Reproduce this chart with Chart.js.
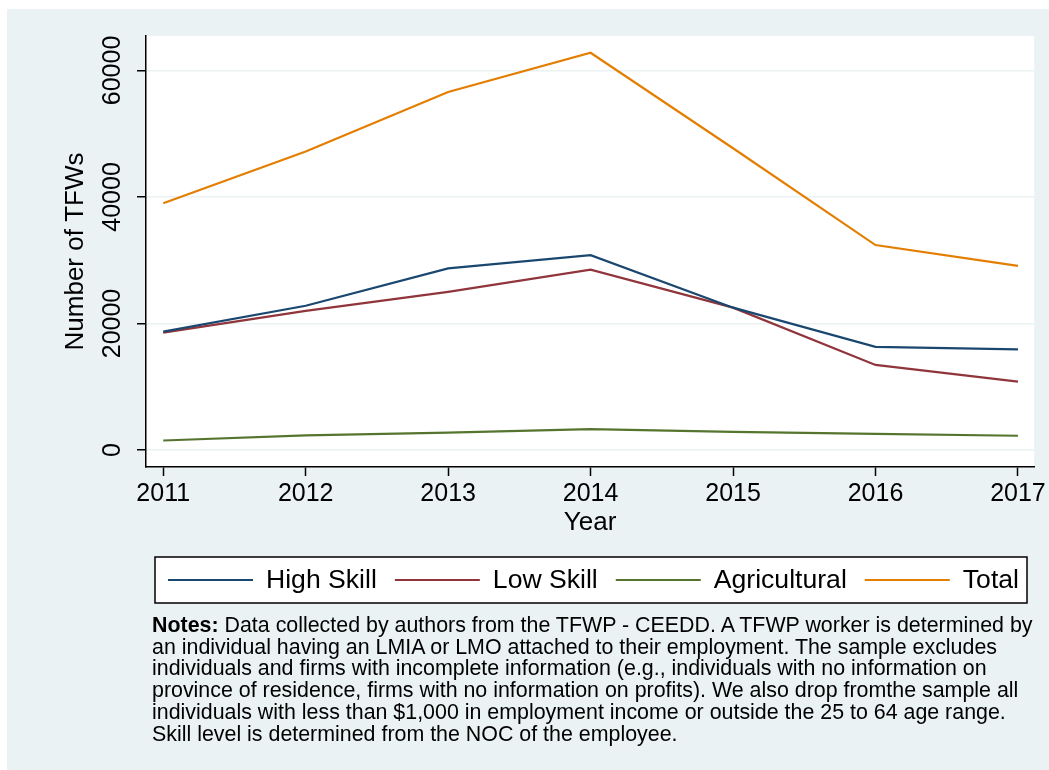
<!DOCTYPE html>
<html>
<head>
<meta charset="utf-8">
<script src="https://cdn.jsdelivr.net/npm/chart.js@4"></script>
<style>
  html, body { margin: 0; padding: 0; background: #fff; }
  #wrap { position: relative; width: 1049px; height: 770px; }
  #notes {
    position: absolute; left: 152px; top: 615px;
    font-family: "Liberation Sans", Arial, sans-serif; font-size: 21.4px;
    line-height: 21.7px; color: #000; white-space: nowrap;
  }
</style>
</head>
<body>
<div id="wrap">
  <canvas id="myChart" width="1049" height="770"></canvas>
  <div id="notes"><b>Notes:</b> Data collected by authors from the TFWP - CEEDD. A TFWP worker is determined by<br>an individual having an LMIA or LMO attached to their employment. The sample excludes<br>individuals and firms with incomplete information (e.g., individuals with no information on<br>province of residence, firms with no information on profits). We also drop fromthe sample all<br>individuals with less than $1,000 in employment income or outside the 25 to 64 age range.<br>Skill level is determined from the NOC of the employee.</div>
</div>
<script>
const years = [2011, 2012, 2013, 2014, 2015, 2016, 2017]
const highSkill = [18700, 22800, 28700, 30800, 22500, 16300, 15900]
const lowSkill = [18550, 22000, 25000, 28500, 22500, 13450, 10800]
const agricultural = [1500, 2300, 2750, 3300, 2850, 2550, 2250]
const total = [39000, 47200, 56600, 62800, 47700, 32400, 29100]
const yTicks = [0, 20000, 40000, 60000]
const seriesNames = ['High Skill', 'Low Skill', 'Agricultural', 'Total']
const seriesColors = ['#1a476f', '#90353b', '#55752f', '#e37e00']

const FONT = '"Liberation Sans", Arial, sans-serif'
const ctx = document.getElementById('myChart')

const toPoints = values => values.map((v, i) => ({ x: years[i], y: v }))

const makeSet = (i, values) => ({
    label: seriesNames[i],
    data: toPoints(values),
    borderColor: seriesColors[i],
    backgroundColor: seriesColors[i],
    borderWidth: 2.2,
    pointRadius: 0,
    tension: 0,
    clip: false
})

// background + custom stata-like legend + rotated y tick labels
const stataLook = {
    id: 'stataLook',
    beforeDraw(chart) {
        const c = chart.ctx
        const a = chart.chartArea
        c.save()
        c.fillStyle = '#ffffff'
        c.fillRect(0, 0, chart.width, chart.height)
        c.fillStyle = '#eaf2f3'
        c.fillRect(7, 9, chart.width - 7, chart.height - 9)
        c.fillStyle = '#ffffff'
        c.fillRect(a.left, a.top, a.right - a.left, a.bottom - a.top)
        c.restore()
    },
    afterDraw(chart) {
        const c = chart.ctx
        const yScale = chart.scales.y
        c.save()
        // y tick labels, rotated
        c.fillStyle = '#000'
        c.font = '25px ' + FONT
        c.textAlign = 'center'
        c.textBaseline = 'middle'
        yScale.ticks.forEach(t => {
            const py = yScale.getPixelForValue(t.value)
            c.save()
            c.translate(113, py)
            c.rotate(-Math.PI / 2)
            c.fillText(String(t.value), 0, 0)
            c.restore()
        })
        // legend box
        c.fillStyle = '#ffffff'
        c.fillRect(155, 557, 872, 46)
        c.strokeStyle = '#000'
        c.lineWidth = 1.5
        c.strokeRect(155, 557, 872, 46)
        c.font = '26.6px ' + FONT
        c.textAlign = 'left'
        let x = 168
        const ly = 580
        chart.data.datasets.forEach(ds => {
            c.strokeStyle = ds.borderColor
            c.lineWidth = 2.2
            c.beginPath()
            c.moveTo(x, ly)
            c.lineTo(x + 85, ly)
            c.stroke()
            c.fillStyle = '#000'
            c.fillText(ds.label, x + 98, ly + 1)
            x += 98 + c.measureText(ds.label).width + 18
        })
        c.restore()
    }
}

new Chart(ctx, {
    type: 'line',
    data: {
        datasets: [
            makeSet(0, highSkill),
            makeSet(1, lowSkill),
            makeSet(2, agricultural),
            makeSet(3, total)
        ]
    },
    options: {
        responsive: false,
        animation: false,
        layout: { padding: { left: 0, top: 36, right: 13, bottom: 223 } },
        plugins: {
            legend: { display: false },
            tooltip: { enabled: false }
        },
        scales: {
            x: {
                type: 'linear',
                min: 2010.879,
                max: 2017.114,
                afterBuildTicks: scale => { scale.ticks = years.map(v => ({ value: v })) },
                afterFit: scale => { scale.height = 80 },
                ticks: {
                    color: '#000',
                    font: { family: FONT, size: 25 },
                    padding: 3,
                    maxRotation: 0,
                    callback: v => String(v)
                },
                grid: {
                    drawOnChartArea: false,
                    tickLength: 9,
                    tickColor: '#000',
                    tickWidth: 1.5
                },
                border: { display: true, color: '#000', width: 1.5 },
                title: {
                    display: true,
                    text: 'Year',
                    color: '#000',
                    font: { family: FONT, size: 26 },
                    padding: { top: 0, bottom: 9 }
                }
            },
            y: {
                type: 'linear',
                min: -2690,
                max: 65450,
                afterBuildTicks: scale => { scale.ticks = yTicks.map(v => ({ value: v })) },
                afterFit: scale => { scale.width = 146 },
                ticks: { display: false },
                grid: {
                    color: '#eaf2f3',
                    lineWidth: 1.5,
                    tickLength: 9,
                    tickColor: '#000',
                    tickWidth: 1.5
                },
                border: { display: true, color: '#000', width: 1.5 },
                title: {
                    display: true,
                    text: 'Number of TFWs',
                    color: '#000',
                    font: { family: FONT, size: 26 },
                    padding: { top: 60, bottom: 0 }
                }
            }
        }
    },
    plugins: [stataLook]
})
</script>
</body>
</html>
